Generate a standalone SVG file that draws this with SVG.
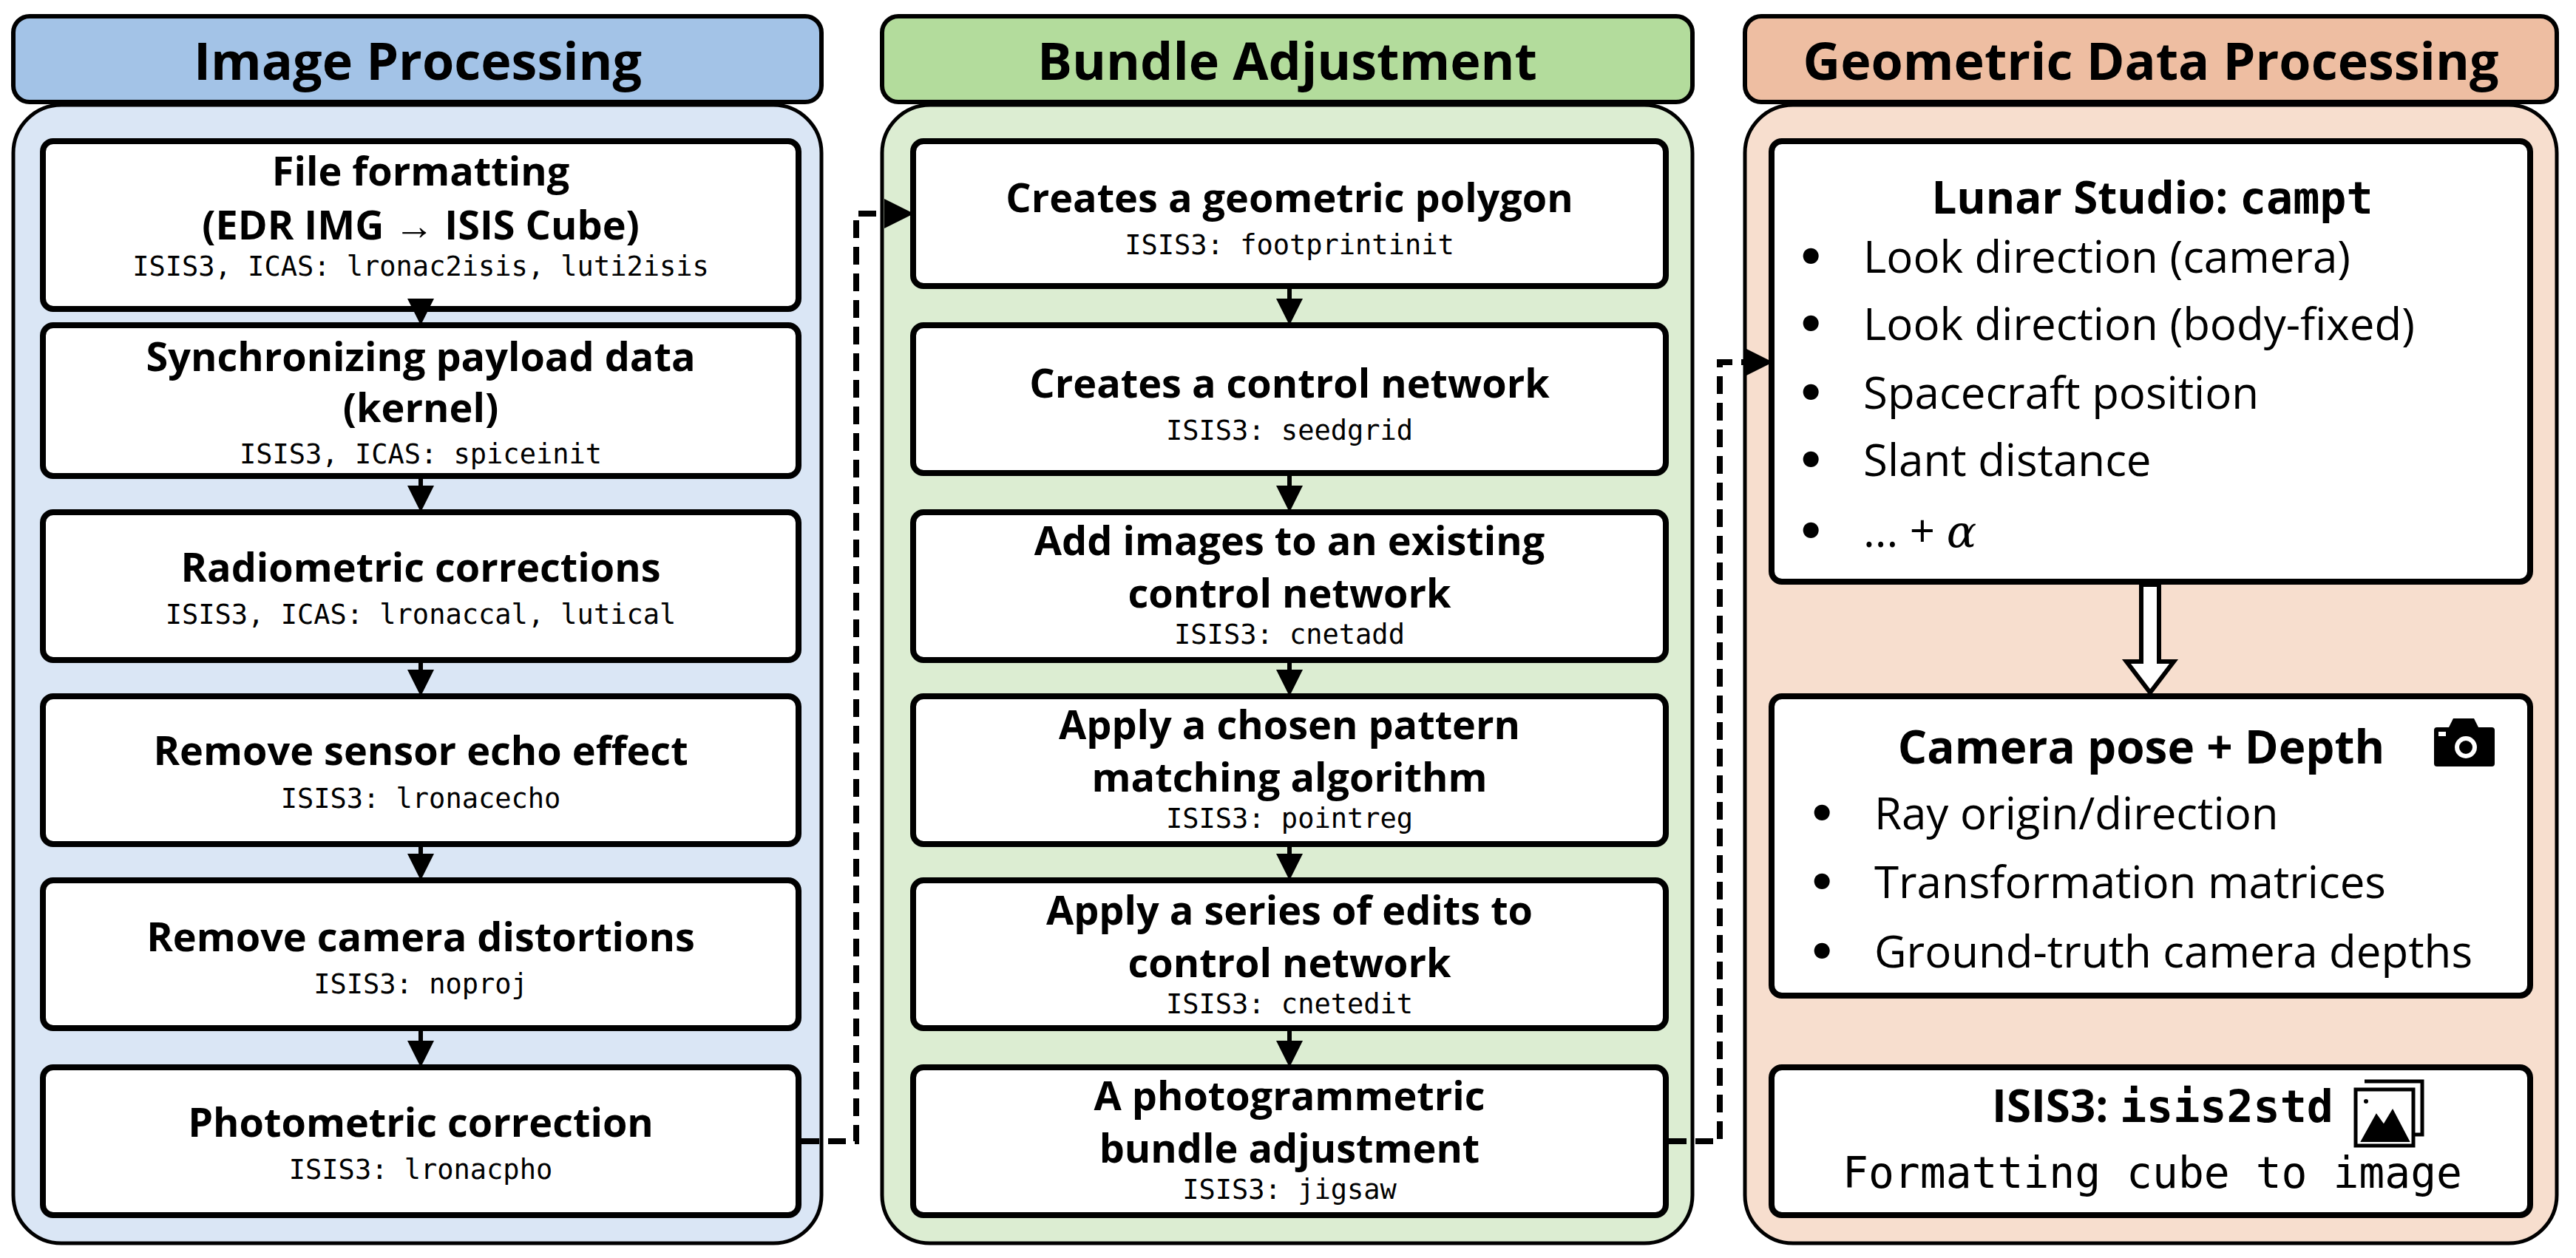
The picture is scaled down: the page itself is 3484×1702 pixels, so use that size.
<svg xmlns="http://www.w3.org/2000/svg" width="3484" height="1702" viewBox="0 0 3484 1702">
<style>
.hdr{stroke:#000;stroke-width:6}
.pnl{stroke:#000;stroke-width:5}
.box{fill:#fff;stroke:#000;stroke-width:8}
.ht{font-family:"Open Sans","Noto Sans",sans-serif;font-weight:bold;font-size:70px;text-anchor:middle}
.t{font-family:"Open Sans","Noto Sans",sans-serif;font-weight:bold;font-size:54px;text-anchor:middle}
.m{font-family:"DejaVu Sans Mono","Liberation Mono",monospace;font-size:37px;text-anchor:middle}
.b{font-family:"Open Sans","Noto Sans",sans-serif;font-size:60px}
.dot{font-family:"DejaVu Sans",sans-serif;font-size:60px;font-weight:bold}
.con{stroke:#000;stroke-width:6;fill:none}
.dash{stroke:#000;stroke-width:8;fill:none;stroke-dasharray:24 12}
</style>
<defs>
<marker id="ah" markerWidth="6" markerHeight="6" refX="5" refY="3" orient="auto" markerUnits="strokeWidth"><path d="M0,0 L6,3 L0,6 z" fill="#000"/></marker>
<marker id="ah2" markerWidth="5" markerHeight="5" refX="4" refY="2.5" orient="auto" markerUnits="strokeWidth"><path d="M0,0 L5,2.5 L0,5 z" fill="#000"/></marker>
</defs>
<rect width="3484" height="1702" fill="#fff"/>
<g id="col-image">
<rect class="pnl" x="18" y="142" width="1093" height="1540" rx="65" fill="#dae6f5"/>
<rect class="hdr" x="18" y="22" width="1093" height="116" rx="22" fill="#a3c3e7"/>
<text class="ht" x="565" y="108">Image Processing</text>
</g>
<g id="col-bundle">
<rect class="pnl" x="1193" y="142" width="1096" height="1540" rx="65" fill="#dcedd2"/>
<rect class="hdr" x="1193" y="22" width="1096" height="116" rx="22" fill="#b3dc9c"/>
<text class="ht" x="1741" y="108">Bundle Adjustment</text>
</g>
<g id="col-geo">
<rect class="pnl" x="2360" y="142" width="1098" height="1540" rx="65" fill="#f7dece"/>
<rect class="hdr" x="2360" y="22" width="1098" height="116" rx="22" fill="#eebea2"/>
<text class="ht" x="2909" y="108">Geometric Data Processing</text>
</g>

<g id="b1"><rect class="box" x="58" y="191" width="1022" height="227" rx="14"/>
<text class="t" x="569" y="251">File formatting</text><text class="t" x="569" y="324">(EDR IMG → ISIS Cube)</text>
<text class="m" x="569" y="373">ISIS3, ICAS: lronac2isis, luti2isis</text></g>
<g id="b2"><rect class="box" x="58" y="440" width="1022" height="204" rx="14"/>
<text class="t" x="569" y="502">Synchronizing payload data</text><text class="t" x="569" y="571">(kernel)</text>
<text class="m" x="569" y="627">ISIS3, ICAS: spiceinit</text></g>
<g id="b3"><rect class="box" x="58" y="693" width="1022" height="200" rx="14"/>
<text class="t" x="569" y="787">Radiometric corrections</text>
<text class="m" x="569" y="844">ISIS3, ICAS: lronaccal, lutical</text></g>
<g id="b4"><rect class="box" x="58" y="942" width="1022" height="200" rx="14"/>
<text class="t" x="569" y="1035">Remove sensor echo effect</text>
<text class="m" x="569" y="1093">ISIS3: lronacecho</text></g>
<g id="b5"><rect class="box" x="58" y="1191" width="1022" height="200" rx="14"/>
<text class="t" x="569" y="1287">Remove camera distortions</text>
<text class="m" x="569" y="1344">ISIS3: noproj</text></g>
<g id="b6"><rect class="box" x="58" y="1444" width="1022" height="200" rx="14"/>
<text class="t" x="569" y="1538">Photometric correction</text>
<text class="m" x="569" y="1595">ISIS3: lronacpho</text></g>

<g id="m1"><rect class="box" x="1235" y="191" width="1018" height="196" rx="14"/>
<text class="t" x="1744" y="287">Creates a geometric polygon</text>
<text class="m" x="1744" y="344">ISIS3: footprintinit</text></g>
<g id="m2"><rect class="box" x="1235" y="440" width="1018" height="200" rx="14"/>
<text class="t" x="1744" y="538">Creates a control network</text>
<text class="m" x="1744" y="595">ISIS3: seedgrid</text></g>
<g id="m3"><rect class="box" x="1235" y="693" width="1018" height="200" rx="14"/>
<text class="t" x="1744" y="751">Add images to an existing</text><text class="t" x="1744" y="822">control network</text>
<text class="m" x="1744" y="871">ISIS3: cnetadd</text></g>
<g id="m4"><rect class="box" x="1235" y="942" width="1018" height="200" rx="14"/>
<text class="t" x="1744" y="1000">Apply a chosen pattern</text><text class="t" x="1744" y="1071">matching algorithm</text>
<text class="m" x="1744" y="1120">ISIS3: pointreg</text></g>
<g id="m5"><rect class="box" x="1235" y="1191" width="1018" height="200" rx="14"/>
<text class="t" x="1744" y="1251">Apply a series of edits to</text><text class="t" x="1744" y="1322">control network</text>
<text class="m" x="1744" y="1371">ISIS3: cnetedit</text></g>
<g id="m6"><rect class="box" x="1235" y="1444" width="1018" height="200" rx="14"/>
<text class="t" x="1744" y="1502">A photogrammetric</text><text class="t" x="1744" y="1573">bundle adjustment</text>
<text class="m" x="1744" y="1622">ISIS3: jigsaw</text></g>

<g id="g1"><rect class="box" x="2396" y="191" width="1026" height="596" rx="14"/>
<text class="t" x="2911" y="289" style="font-size:60px">Lunar Studio: <tspan style="font-family:'DejaVu Sans Mono',monospace">campt</tspan></text>
<text class="dot" x="2430" y="369">•</text><text class="b" x="2520" y="369">Look direction (camera)</text>
<text class="dot" x="2430" y="460">•</text><text class="b" x="2520" y="460">Look direction (body-fixed)</text>
<text class="dot" x="2430" y="553">•</text><text class="b" x="2520" y="553">Spacecraft position</text>
<text class="dot" x="2430" y="644">•</text><text class="b" x="2520" y="644">Slant distance</text>
<text class="dot" x="2430" y="740">•</text><text class="b" x="2520" y="740">... + <tspan style="font-style:italic;font-family:'DejaVu Serif',serif">α</tspan></text></g>
<g id="g2"><rect class="box" x="2396" y="942" width="1026" height="405" rx="14"/>
<text class="t" x="2896" y="1033" style="font-size:62px">Camera pose + Depth</text>
<g><rect x="3292" y="984" width="82" height="53" rx="4" fill="#000"/><path d="M3312,984 l6,-12 h28 l6,12z" fill="#000"/><circle cx="3335" cy="1011" r="15" fill="#fff"/><circle cx="3335" cy="1011" r="9" fill="#000"/><rect x="3298" y="990" width="10" height="6" fill="#fff"/></g>
<text class="dot" x="2445" y="1122">•</text><text class="b" x="2535" y="1122">Ray origin/direction</text>
<text class="dot" x="2445" y="1215">•</text><text class="b" x="2535" y="1215">Transformation matrices</text>
<text class="dot" x="2445" y="1309">•</text><text class="b" x="2535" y="1309">Ground-truth camera depths</text></g>
<g id="g3"><rect class="box" x="2396" y="1444" width="1026" height="200" rx="14"/>
<text class="t" x="2925" y="1518" style="font-size:60px;text-anchor:middle">ISIS3: <tspan style="font-family:'DejaVu Sans Mono',monospace">isis2std</tspan></text>
<g fill="none" stroke="#000" stroke-width="5"><path d="M3198,1463 h78 v72 h-10"/><rect x="3186" y="1474" width="78" height="76" fill="#fff"/><path d="M3194,1544 l20,-36 l10,14 l12,-20 l22,42 z" fill="#000" stroke-width="2"/><circle cx="3200" cy="1490" r="3" fill="#000" stroke="none"/></g>
<text class="m" x="2911" y="1607" style="font-size:58px">Formatting cube to image</text></g>

<g id="connectors">
<line class="con" x1="569" y1="418" x2="569" y2="434" marker-end="url(#ah)"/>
<line class="con" x1="569" y1="644" x2="569" y2="687" marker-end="url(#ah)"/>
<line class="con" x1="569" y1="893" x2="569" y2="936" marker-end="url(#ah)"/>
<line class="con" x1="569" y1="1142" x2="569" y2="1185" marker-end="url(#ah)"/>
<line class="con" x1="569" y1="1391" x2="569" y2="1438" marker-end="url(#ah)"/>
<line class="con" x1="1744" y1="387" x2="1744" y2="434" marker-end="url(#ah)"/>
<line class="con" x1="1744" y1="640" x2="1744" y2="687" marker-end="url(#ah)"/>
<line class="con" x1="1744" y1="893" x2="1744" y2="936" marker-end="url(#ah)"/>
<line class="con" x1="1744" y1="1142" x2="1744" y2="1185" marker-end="url(#ah)"/>
<line class="con" x1="1744" y1="1391" x2="1744" y2="1438" marker-end="url(#ah)"/>
<path class="dash" d="M1084,1544 H1158 V289 H1228" marker-end="url(#ah2)"/>
<path class="dash" d="M2257,1544 H2326 V490 H2390" marker-end="url(#ah2)"/>
<path d="M2896,791 h24 v104 h20 l-32,42 l-32,-42 h20 z" fill="#fff" stroke="#000" stroke-width="6"/>
</g>
</svg>
